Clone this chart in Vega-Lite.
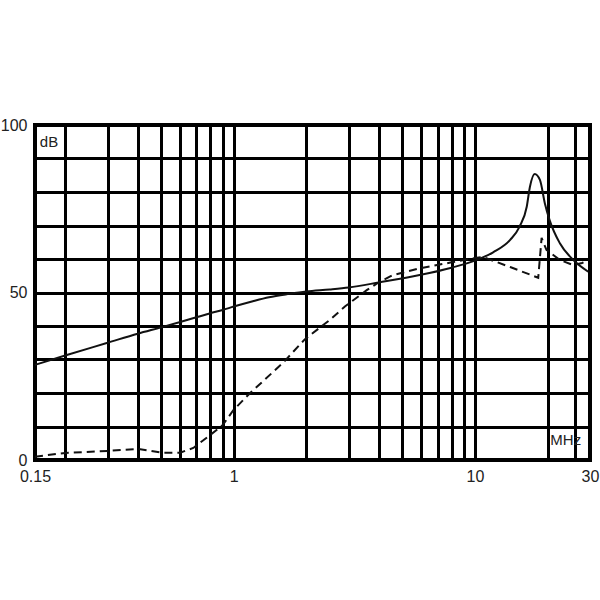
{
  "$schema": "https://vega.github.io/schema/vega-lite/v6.json",
  "width": 555,
  "height": 335,
  "autosize": {"type": "none"},
  "padding": {"left": 35, "top": 125, "right": 10, "bottom": 140},
  "background": "white",
  "config": {
    "view": {"stroke": "black", "strokeWidth": 4},
    "axis": {
      "domain": false,
      "ticks": false,
      "grid": true,
      "gridColor": "black",
      "gridWidth": 3,
      "gridOpacity": 1,
      "labelFont": "Liberation Sans",
      "labelFontSize": 16,
      "labelColor": "#222",
      "title": null
    }
  },
  "datasets": {
    "solid": [
      {"f": 0.15, "db": 28.4},
      {"f": 0.2, "db": 31.2},
      {"f": 0.3, "db": 35.0},
      {"f": 0.4, "db": 37.7},
      {"f": 0.5, "db": 39.6},
      {"f": 0.6, "db": 41.2},
      {"f": 0.7, "db": 42.6},
      {"f": 0.8, "db": 43.8},
      {"f": 0.9, "db": 44.8},
      {"f": 1.0, "db": 45.8},
      {"f": 1.2, "db": 47.4},
      {"f": 1.4, "db": 48.6},
      {"f": 1.7, "db": 49.6},
      {"f": 2.0, "db": 50.3},
      {"f": 2.5, "db": 50.9},
      {"f": 3.0, "db": 51.5},
      {"f": 4.0, "db": 53.0},
      {"f": 5.9, "db": 55.2},
      {"f": 8.0, "db": 57.4},
      {"f": 10.0, "db": 59.5},
      {"f": 11.9, "db": 62.0},
      {"f": 14.0, "db": 65.7},
      {"f": 15.3, "db": 69.6},
      {"f": 16.4, "db": 75.6},
      {"f": 16.9, "db": 81.5},
      {"f": 17.7, "db": 85.4},
      {"f": 18.6, "db": 83.6},
      {"f": 19.5, "db": 76.6},
      {"f": 20.4, "db": 71.6},
      {"f": 22.5, "db": 64.7},
      {"f": 25.6, "db": 59.7},
      {"f": 29.5, "db": 56.2}
    ],
    "dashed": [
      {"f": 0.15, "db": 1.0},
      {"f": 0.2, "db": 2.1},
      {"f": 0.3, "db": 2.7},
      {"f": 0.4, "db": 3.3},
      {"f": 0.5, "db": 2.2},
      {"f": 0.6, "db": 2.2},
      {"f": 0.68, "db": 3.6},
      {"f": 0.8, "db": 7.5},
      {"f": 0.9, "db": 10.4},
      {"f": 1.0, "db": 15},
      {"f": 1.17, "db": 20},
      {"f": 1.6, "db": 29},
      {"f": 1.97, "db": 36},
      {"f": 2.5, "db": 41.8},
      {"f": 2.89, "db": 45.8},
      {"f": 3.56, "db": 50.7},
      {"f": 4.03, "db": 53.2},
      {"f": 4.57, "db": 55.2},
      {"f": 5.9, "db": 57.2},
      {"f": 8.0, "db": 59},
      {"f": 10.0, "db": 60.3},
      {"f": 10.8, "db": 60.6},
      {"f": 14.0, "db": 57.6},
      {"f": 18.3, "db": 54.4},
      {"f": 18.9, "db": 66.3},
      {"f": 19.8, "db": 62.7},
      {"f": 22.5, "db": 59.7},
      {"f": 25.5, "db": 58.2},
      {"f": 27.8, "db": 58.8},
      {"f": 29.5, "db": 59.7}
    ],
    "labels": [
      {"f": 0.1715, "db": 94.8, "t": "dB"},
      {"f": 23.8, "db": 6.0, "t": "MHz"}
    ]
  },
  "encoding": {
    "x": {
      "field": "f", "type": "quantitative",
      "scale": {"type": "log", "domain": [0.15, 30], "nice": false},
      "axis": {
        "values": [0.15, 0.2, 0.3, 0.4, 0.5, 0.6, 0.7, 0.8, 0.9, 1, 2, 3, 4, 5, 6, 7, 8, 9, 10, 20, 26, 30],
        "labelExpr": "datum.value == 0.15 ? '0.15' : datum.value == 1 ? '1' : datum.value == 10 ? '10' : datum.value == 30 ? '30' : ''",
        "labelPadding": 8,
        "labelFlush": false,
        "labelOverlap": false
      }
    },
    "y": {
      "field": "db", "type": "quantitative",
      "scale": {"domain": [0, 100], "nice": false, "zero": true},
      "axis": {
        "values": [0, 10, 20, 30, 40, 50, 60, 70, 80, 90, 100],
        "labelExpr": "(datum.value == 0 || datum.value == 50 || datum.value == 100) ? ('' + datum.value) : ''",
        "labelPadding": 8,
        "labelFlush": false,
        "labelOverlap": false
      }
    }
  },
  "layer": [
    {
      "data": {"name": "solid"},
      "mark": {"type": "line", "color": "#111", "strokeWidth": 2, "interpolate": "monotone"}
    },
    {
      "data": {"name": "dashed"},
      "mark": {"type": "line", "color": "#111", "strokeWidth": 2, "strokeDash": [8, 5]}
    },
    {
      "data": {"name": "labels"},
      "mark": {"type": "text", "font": "Liberation Sans", "fontSize": 15, "color": "#222", "baseline": "middle", "align": "center"},
      "encoding": {
        "text": {"field": "t"}
      }
    }
  ]
}
